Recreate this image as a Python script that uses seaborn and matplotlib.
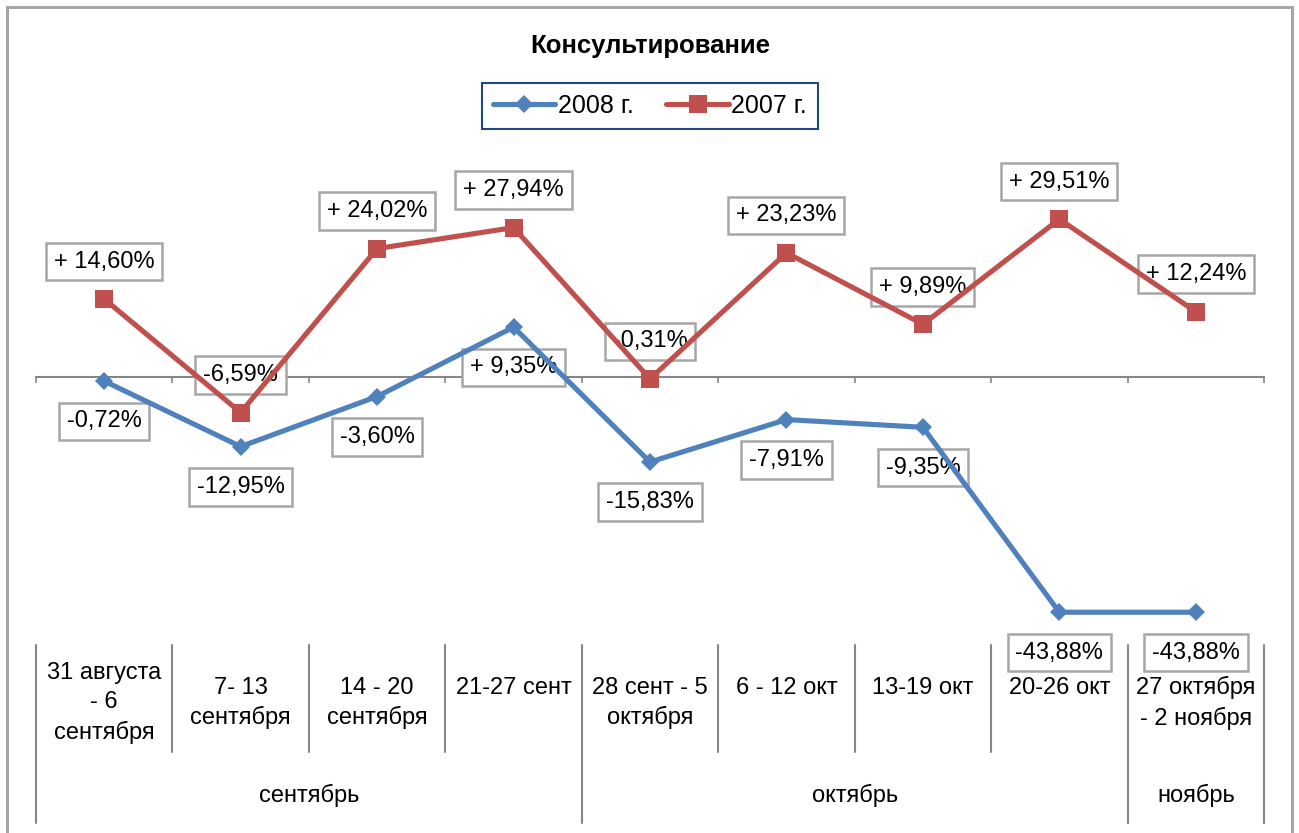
import numpy as np
import pandas as pd
import matplotlib
matplotlib.use("Agg")
import matplotlib.pyplot as plt
import matplotlib.transforms as mtransforms
from matplotlib.patches import Rectangle
from matplotlib.lines import Line2D
import seaborn as sns

# ---------------- data ----------------
weeks = ["31 августа\n- 6\nсентября", "7- 13\nсентября", "14 - 20\nсентября", "21-27 сент",
         "28 сент - 5\nоктября", "6 - 12 окт", "13-19 окт", "20-26 окт", "27 октября\n- 2 ноября"]
months = ["сентябрь", "октябрь", "ноябрь"]
month_spans = [4, 4, 1]
values_2008 = [-0.72, -12.95, -3.60, 9.35, -15.83, -7.91, -9.35, -43.88, -43.88]
values_2007 = [14.60, -6.59, 24.02, 27.94, -0.31, 23.23, 9.89, 29.51, 12.24]
series = ["2008 г.", "2007 г."]
title = "Консультирование"

colors = ["#4f81bd", "#c0504d"]
grey = "#868686"

sns.set_theme(style="white")
plt.rcParams["font.family"] = ["Liberation Sans", "DejaVu Sans"]
plt.rcParams["text.color"] = "black"

W, H = 1299, 833
fig = plt.figure(figsize=(W / 100, H / 100), dpi=100)
fig.patch.set_facecolor("white")
ax = fig.add_axes([36 / W, 1 - 645 / H, (1264 - 36) / W, (645 - 163) / H])
ax.set_facecolor("none")

df = pd.DataFrame({
    "x": list(range(len(weeks))) * 2,
    "value": values_2008 + values_2007,
    "series": [series[0]] * len(weeks) + [series[1]] * len(weeks),
})

sns.lineplot(data=df, x="x", y="value", hue="series", style="series",
             hue_order=series, style_order=series, palette=colors,
             markers={series[0]: "D", series[1]: "s"}, dashes=False,
             linewidth=3.7, markersize=10, markeredgewidth=0,
             legend=False, ax=ax, zorder=4)
ax.lines[0].set_markersize(9.6)
ax.lines[1].set_markersize(13.5)

ax.set_xlim(-0.5, len(weeks) - 0.5)
ax.set_ylim(-50, 40)
for s in ["top", "left", "right"]:
    ax.spines[s].set_visible(False)
ax.spines["bottom"].set_position(("data", 0))
ax.spines["bottom"].set_color(grey)
ax.spines["bottom"].set_linewidth(1.5)
ax.spines["bottom"].set_zorder(1)
ax.set_xticks(np.arange(-0.5, len(weeks), 1))
ax.tick_params(axis="x", direction="out", length=4.5, width=1.2, color=grey,
               labelbottom=False, bottom=True)
ax.set_yticks([])
ax.set_xlabel("")
ax.set_ylabel("")


def fmt(v):
    s = f"{abs(v):.2f}".replace(".", ",") + "%"
    return ("+ " + s) if v > 0 else ("-" + s)


FS = 17
box = dict(boxstyle="square,pad=0.33", fc="white", ec="#a6a6a6", lw=1.8)
for i, v in enumerate(values_2007):
    ax.annotate(fmt(v), (i, v), xytext=(0, 27), textcoords="offset points",
                ha="center", va="center", fontsize=FS, bbox=box, zorder=2)
for i, v in enumerate(values_2008):
    ax.annotate(fmt(v), (i, v), xytext=(0, -29), textcoords="offset points",
                ha="center", va="center", fontsize=FS, bbox=box, zorder=2)

# multi-level category axis
blend = mtransforms.blended_transform_factory(ax.transData, fig.transFigure)
for i, w in enumerate(weeks):
    n = w.count("\n") + 1
    yc = 688 if n == 1 else 703
    ax.text(i, 1 - yc / H, w, transform=blend, ha="center", va="center",
            fontsize=FS, linespacing=1.4, color="black")

month_edges = list(np.cumsum([0] + month_spans) - 0.5)
for b in np.arange(-0.5, len(weeks), 1):
    bottom = 823 if any(abs(b - e) < 1e-9 for e in month_edges) else 752
    ax.plot([b, b], [1 - 645 / H, 1 - bottom / H], transform=blend,
            color=grey, lw=1.5, clip_on=False)

for m, a, b in zip(months, month_edges[:-1], month_edges[1:]):
    ax.text((a + b) / 2, 1 - 795 / H, m, transform=blend, ha="center",
            va="center", fontsize=FS, color="black")

# title and legend
fig.text(650 / W, 1 - 46 / H, title, ha="center", va="center",
         fontsize=18.5, fontweight="bold", color="black")

handles = [Line2D([], [], color=colors[0], lw=3.7, marker="D", markersize=9.6, markeredgewidth=0),
           Line2D([], [], color=colors[1], lw=3.7, marker="s", markersize=13.5, markeredgewidth=0)]
leg = fig.legend(handles, series, loc="center", bbox_to_anchor=(650 / W, 1 - 106 / H),
                 ncol=2, frameon=True, fancybox=False, framealpha=1,
                 edgecolor="#1f497d", fontsize=18, handlelength=2.5,
                 handletextpad=0.1, columnspacing=1.3, borderpad=0.45)
leg.get_frame().set_linewidth(1.5)
for t in leg.get_texts():
    t.set_color("black")

fig.patches.append(Rectangle((7 / W, -0.05), (1292 - 7) / W, 1 - 7 / H + 0.05,
                             transform=fig.transFigure, fill=False,
                             ec="#a6a6a6", lw=2.2))

fig.savefig("out.png", dpi=100)
